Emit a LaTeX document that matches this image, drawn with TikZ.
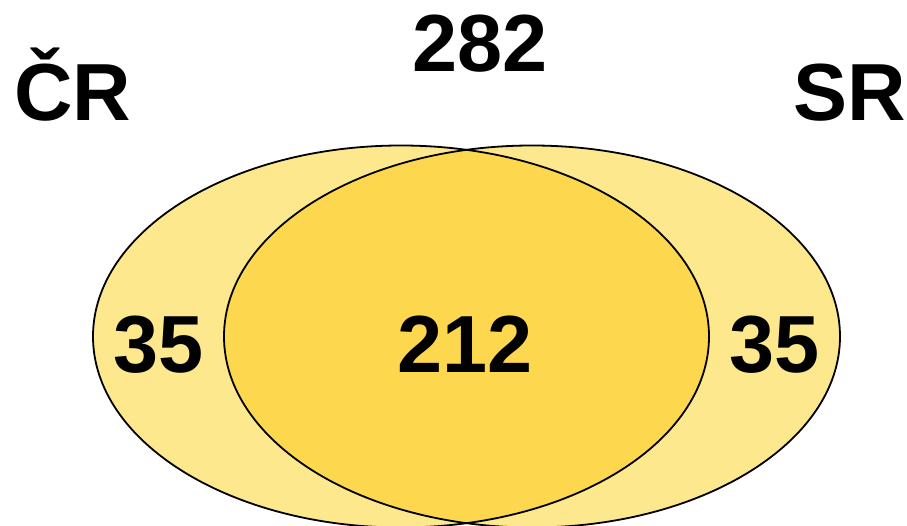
\documentclass[tikz,border=0pt]{standalone}
\usepackage{fontspec}
\setmainfont{Liberation Sans}
\definecolor{lightgold}{HTML}{FDE88E}
\definecolor{darkgold}{HTML}{FDD84E}
\begin{document}
\begin{tikzpicture}[x=1pt,y=-1pt,
  lbl/.style={font=\fontsize{81}{90}\selectfont\bfseries, anchor=base, inner sep=0pt},
  rim/.style={draw=black, line width=1.8pt}]
\useasboundingbox (0,0) rectangle (907,526);
\coordinate (cl) at (401,336.5);
\coordinate (cr) at (532,336.5);
% fills
\fill[lightgold] (cl) ellipse [x radius=308, y radius=191];
\fill[lightgold] (cr) ellipse [x radius=308, y radius=191];
\begin{scope}
  \clip (cl) ellipse [x radius=308, y radius=191];
  \fill[darkgold] (cr) ellipse [x radius=308, y radius=191];
\end{scope}
% outlines
\draw[rim] (cl) ellipse [x radius=308, y radius=191];
\draw[rim] (cr) ellipse [x radius=308, y radius=191];
% labels
\node[lbl] (total) at (480,72) {282};
\node[lbl] (cz) at (73,121) {ČR};
\node[lbl] (sk) at (850,121) {SR};
\node[lbl] (onlycz) at (159,372) {35};
\node[lbl] (both) at (465,372) {212};
\node[lbl] (onlysk) at (775,372) {35};
\end{tikzpicture}
\end{document}
